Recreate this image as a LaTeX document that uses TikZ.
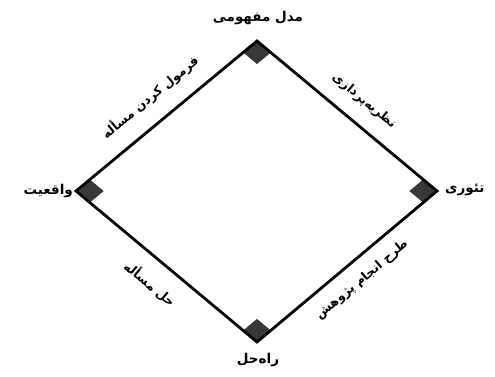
\documentclass[tikz,border=0pt]{standalone}
\usepackage{fontspec}
\usetikzlibrary{calc}
\newfontfamily\fa[Script=Arabic]{DejaVu Sans}
\TeXXeTstate=1
\tikzset{
  edgeline/.style={line width=2.8pt, line join=miter},
  cornermark/.style={fill=black!78},
  vlabel/.style={font=\fa\bfseries\fontsize{13.5}{16}\selectfont, inner sep=1pt},
  elabel/.style={font=\fa\bfseries\fontsize{12.5}{15}\selectfont, inner sep=1pt}
}
\begin{document}
\begin{tikzpicture}[x=1pt,y=1pt]
\useasboundingbox (0,0) rectangle (495,376);
\coordinate (T) at (257,335);
\coordinate (R) at (437,185);
\coordinate (B) at (257,34);
\coordinate (L) at (76,185);
% corner marks
\fill[cornermark] (T) -- ($(T)!18pt!(R)$) -- ($(T)!18pt!(R) + (T)!18pt!(L) - (T)$) -- ($(T)!18pt!(L)$) -- cycle;
\fill[cornermark] (R) -- ($(R)!18pt!(T)$) -- ($(R)!18pt!(T) + (R)!18pt!(B) - (R)$) -- ($(R)!18pt!(B)$) -- cycle;
\fill[cornermark] (B) -- ($(B)!18pt!(R)$) -- ($(B)!18pt!(R) + (B)!18pt!(L) - (B)$) -- ($(B)!18pt!(L)$) -- cycle;
\fill[cornermark] (L) -- ($(L)!18pt!(T)$) -- ($(L)!18pt!(T) + (L)!18pt!(B) - (L)$) -- ($(L)!18pt!(B)$) -- cycle;
\draw[edgeline] (T) -- (R) -- (B) -- (L) -- cycle;
% vertex labels
\node[vlabel] (top) at (258,358) {\beginR مدل مفهومی\endR};
\node[vlabel, anchor=west] (right) at (444,186) {\beginR تئوری\endR};
\node[vlabel] (bottom) at (258,16) {\beginR راه‌حل\endR};
\node[vlabel, anchor=east] (left) at (74,185) {\beginR واقعیت\endR};
% edge labels
\node[elabel, rotate=39.8] (tl) at (150,279) {\beginR فرمول کردن مسأله\endR};
\node[elabel, rotate=-39.8] (tr) at (364,275) {\beginR نظریه‌پردازی\endR};
\node[elabel, rotate=39.8] (br) at (362,96) {\beginR طرح انجام پژوهش\endR};
\node[elabel, rotate=-39.8] (bl) at (150,92) {\beginR حل مسأله\endR};
\end{tikzpicture}
\end{document}
